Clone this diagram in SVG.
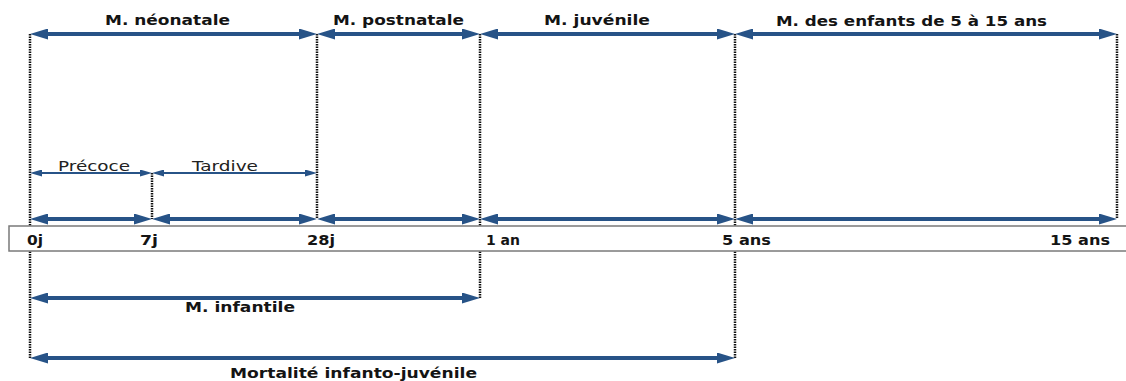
<svg xmlns="http://www.w3.org/2000/svg" width="1126" height="381" viewBox="0 0 1126 381">
<style>
.bg{fill:#ffffff}
.dot{stroke:#111111;stroke-width:2.5;stroke-dasharray:1.5 1;fill:none}
.thick{stroke:#275387;stroke-width:4;fill:none;marker-start:url(#ah);marker-end:url(#ah)}
.thin{stroke:#275387;stroke-width:2;fill:none;marker-start:url(#as);marker-end:url(#as)}
.bar{fill:#ffffff;stroke:#7a7a7a;stroke-width:1.5}
.lb{font-family:"DejaVu Sans","Liberation Sans",sans-serif;font-weight:bold;font-size:14.5px;fill:#141414}
.ln{font-family:"DejaVu Sans","Liberation Sans",sans-serif;font-size:14.5px;fill:#222222}
</style>
<defs>
<marker id="ah" viewBox="0 0 18 11" refX="8" refY="5.5" markerWidth="18" markerHeight="11" markerUnits="userSpaceOnUse" orient="auto-start-reverse">
<path d="M0,0 L18,5.5 L0,11 z" fill="#275387"/>
</marker>
<marker id="as" viewBox="0 0 12 7" refX="5" refY="3.5" markerWidth="12" markerHeight="7" markerUnits="userSpaceOnUse" orient="auto-start-reverse">
<path d="M0,0 L12,3.5 L0,7 z" fill="#275387"/>
</marker>
</defs>
<rect class="bg" x="0" y="0" width="1126" height="381"/>
<g id="guides">
<line class="dot" x1="30" y1="34" x2="30" y2="358"/>
<line class="dot" x1="152" y1="173" x2="152" y2="219"/>
<line class="dot" x1="317" y1="34" x2="317" y2="219"/>
<line class="dot" x1="480" y1="34" x2="480" y2="298"/>
<line class="dot" x1="735" y1="34" x2="735" y2="358"/>
<line class="dot" x1="1117" y1="34" x2="1117" y2="219"/>
</g>
<g id="connectors">
<line class="thick" x1="40" y1="34" x2="307" y2="34"/>
<line class="thick" x1="327" y1="34" x2="470" y2="34"/>
<line class="thick" x1="490" y1="34" x2="725" y2="34"/>
<line class="thick" x1="745" y1="34" x2="1107" y2="34"/>
<line class="thin" x1="37" y1="173" x2="145" y2="173"/>
<line class="thin" x1="159" y1="173" x2="310" y2="173"/>
<line class="thick" x1="40" y1="219" x2="142" y2="219"/>
<line class="thick" x1="162" y1="219" x2="307" y2="219"/>
<line class="thick" x1="327" y1="219" x2="470" y2="219"/>
<line class="thick" x1="490" y1="219" x2="725" y2="219"/>
<line class="thick" x1="745" y1="219" x2="1107" y2="219"/>
<line class="thick" x1="40" y1="298" x2="470" y2="298"/>
<line class="thick" x1="40" y1="358" x2="725" y2="358"/>
</g>
<g id="axis">
<rect class="bar" x="9" y="226" width="1130" height="25"/>
<text class="lb" x="27" y="245" textLength="16" lengthAdjust="spacingAndGlyphs">0j</text>
<text class="lb" x="140" y="245" textLength="18" lengthAdjust="spacingAndGlyphs">7j</text>
<text class="lb" x="307" y="245" textLength="28" lengthAdjust="spacingAndGlyphs">28j</text>
<text class="lb" x="486" y="245" textLength="34" lengthAdjust="spacingAndGlyphs">1 an</text>
<text class="lb" x="722" y="245" textLength="49" lengthAdjust="spacingAndGlyphs">5 ans</text>
<text class="lb" x="1050" y="245" textLength="60" lengthAdjust="spacingAndGlyphs">15 ans</text>
</g>
<g id="neonatale"><text class="lb" x="105" y="25" textLength="125" lengthAdjust="spacingAndGlyphs">M. néonatale</text></g>
<g id="postnatale"><text class="lb" x="333" y="25" textLength="131" lengthAdjust="spacingAndGlyphs">M. postnatale</text></g>
<g id="juvenile"><text class="lb" x="544" y="25" textLength="106" lengthAdjust="spacingAndGlyphs">M. juvénile</text></g>
<g id="enfants"><text class="lb" x="776" y="26" textLength="271" lengthAdjust="spacingAndGlyphs">M. des enfants de 5 à 15 ans</text></g>
<g id="precoce"><text class="ln" x="58" y="171" textLength="72" lengthAdjust="spacingAndGlyphs">Précoce</text></g>
<g id="tardive"><text class="ln" x="192" y="171" textLength="66" lengthAdjust="spacingAndGlyphs">Tardive</text></g>
<g id="infantile"><text class="lb" x="185" y="312" textLength="110" lengthAdjust="spacingAndGlyphs">M. infantile</text></g>
<g id="infanto-juvenile"><text class="lb" x="230" y="378" textLength="247" lengthAdjust="spacingAndGlyphs">Mortalité infanto-juvénile</text></g>
</svg>
